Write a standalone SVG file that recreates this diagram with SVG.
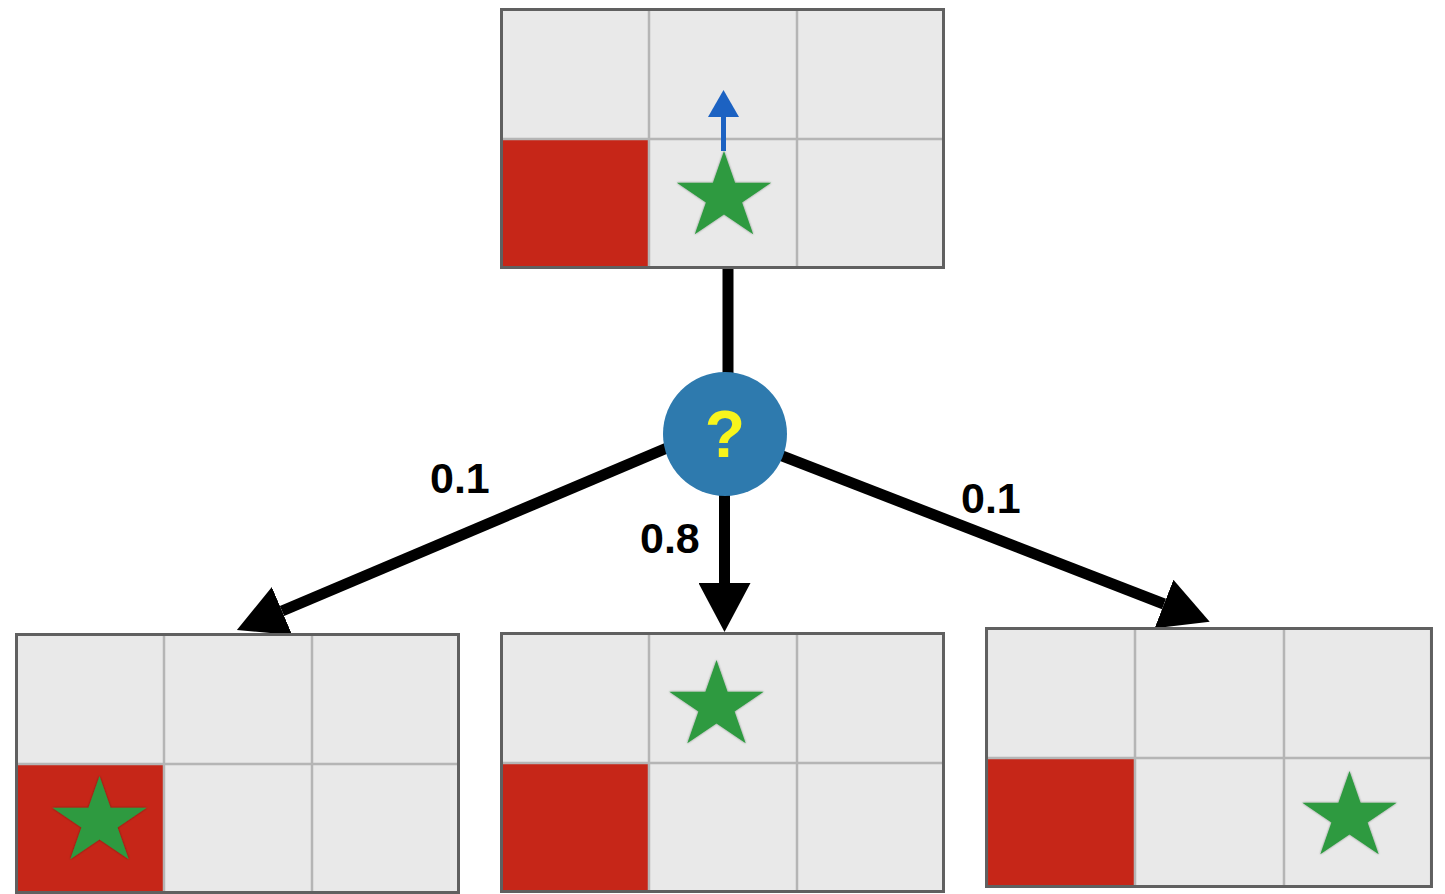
<svg xmlns="http://www.w3.org/2000/svg" xmlns:xlink="http://www.w3.org/1999/xlink" width="1445" height="894" viewBox="0 0 1445 894">
  <style>
    .cell-bg { fill: #e9e9e9; }
    .frame { fill: none; stroke: #606060; stroke-width: 3; }
    .grid { stroke: #b5b5b5; stroke-width: 2.5; fill: none; }
    .wall { fill: #c62618; }
    .goal { fill: #2e9a40; filter: url(#soft); }
    .edge { stroke: #000; stroke-width: 11; fill: none; }
    .prob { font-family: "Liberation Sans", Arial, sans-serif; font-weight: bold; font-size: 43px; fill: #000; }
    .qmark { font-family: "Liberation Sans", Arial, sans-serif; font-weight: bold; font-size: 66px; fill: #f8f41c; text-anchor: middle; }
  </style>
  <defs>
    <filter id="soft" x="-20%" y="-20%" width="140%" height="140%">
      <feDropShadow dx="0" dy="0" stdDeviation="1.3" flood-color="#000" flood-opacity="0.45"/>
    </filter>
    <marker id="head" markerUnits="userSpaceOnUse" markerWidth="50" markerHeight="52" refX="0" refY="26" orient="auto" viewBox="0 0 50 52">
      <path d="M0,0 L49,26 L0,52 Z" fill="#000"/>
    </marker>
    <!-- star glyph, centred on its circumcentre -->
    <path id="star" d="M0,-46 L11.1,-14.2 L47.2,-14.2 L18.1,5.4 L29.2,37.2 L0,17.6 L-29.2,37.2 L-18.1,5.4 L-47.2,-14.2 L-11.1,-14.2 Z"/>
    <!-- 3x2 grid world with the wall in the lower-left cell -->
    <g id="board">
      <rect class="cell-bg" x="1.5" y="1.5" width="442" height="258"/>
      <rect class="wall" x="3" y="132" width="145" height="126"/>
      <line class="grid" x1="149" y1="3" x2="149" y2="258"/>
      <line class="grid" x1="297" y1="3" x2="297" y2="258"/>
      <line class="grid" x1="3" y1="131" x2="442" y2="131"/>
      <rect class="frame" x="1.5" y="1.5" width="442" height="258"/>
    </g>
  </defs>

  <rect width="1445" height="894" fill="#fff"/>

  <!-- connectors -->
  <g id="connectors">
    <line class="edge" x1="728" y1="265" x2="728" y2="400"/>
    <line class="edge" x1="700" y1="434" x2="282" y2="611" marker-end="url(#head)"/>
    <line class="edge" x1="724.5" y1="470" x2="724.5" y2="583" marker-end="url(#head)"/>
    <line class="edge" x1="750" y1="443.5" x2="1164" y2="604" marker-end="url(#head)"/>
    <text class="prob" x="430" y="493">0.1</text>
    <text class="prob" x="640" y="553">0.8</text>
    <text class="prob" x="961" y="513">0.1</text>
  </g>

  <!-- current state: agent in the bottom-middle cell, moving up -->
  <g id="state-start" transform="translate(500,8)">
    <use xlink:href="#board"/>
    <use xlink:href="#star" class="goal" transform="translate(224,189)"/>
    <line x1="223.5" y1="143" x2="223.5" y2="108" stroke="#1c62c2" stroke-width="5"/>
    <polygon points="223.5,82 239,109 208,109" fill="#1c62c2"/>
  </g>

  <!-- chance node -->
  <g id="chance">
    <circle cx="725" cy="434" r="62" fill="#2e7aae"/>
    <text class="qmark" x="725" y="457">?</text>
  </g>

  <!-- outcome: slipped left -->
  <g id="state-left" transform="translate(15,633)">
    <use xlink:href="#board"/>
    <use xlink:href="#star" class="goal" transform="translate(84.5,189)"/>
  </g>

  <!-- outcome: moved up -->
  <g id="state-up" transform="translate(500,632)">
    <use xlink:href="#board"/>
    <use xlink:href="#star" class="goal" transform="translate(216.5,74)"/>
  </g>

  <!-- outcome: slipped right -->
  <g id="state-right" transform="translate(985,627)">
    <use xlink:href="#board" transform="scale(1.0067,1)"/>
    <use xlink:href="#star" class="goal" transform="translate(364.5,190)"/>
  </g>
</svg>
